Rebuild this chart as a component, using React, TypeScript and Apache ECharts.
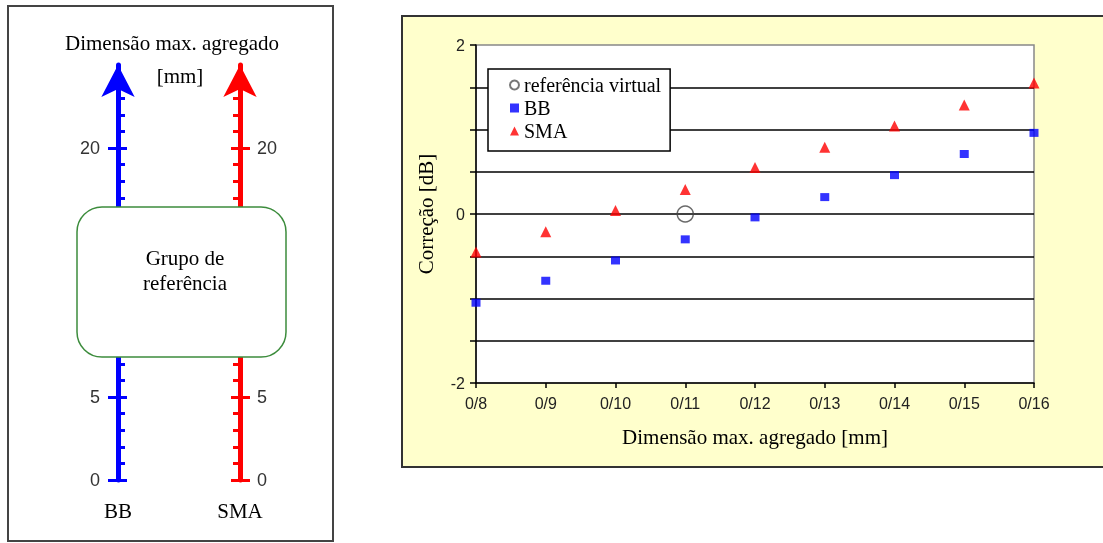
import React, { useEffect, useRef } from 'react';
import * as echarts from 'echarts';

const categories = ['0/8', '0/9', '0/10', '0/11', '0/12', '0/13', '0/14', '0/15', '0/16'];
const bbValues = [-1.05, -0.79, -0.55, -0.3, -0.04, 0.2, 0.46, 0.71, 0.96];
const smaValues = [-0.45, -0.21, 0.04, 0.29, 0.55, 0.79, 1.04, 1.29, 1.55];
const referencePoint: [string, number] = ['0/11', 0];
const yTickLabels = [-2, 0, 2];
const scaleTickLabels = [0, 5, 20];
const scaleMax = 25;
const scaleNames = ['BB', 'SMA'];
const legendNames = ['referência virtual', 'BB', 'SMA'];

const SERIF = "'Liberation Serif', 'Times New Roman', serif";
const SANS = "'Liberation Sans', Arial, sans-serif";
const BLUE = '#0000ff';
const RED = '#ff0000';

function scaleAxes(position: 'left' | 'right', color: string, name: string, margin: number) {
  const main = {
    type: 'value',
    gridIndex: 1,
    position,
    min: 0,
    max: scaleMax,
    interval: 5,
    name,
    nameLocation: 'start',
    nameGap: 20,
    nameTextStyle: { fontFamily: SERIF, fontSize: 21, color: '#000' },
    axisLine: {
      show: true,
      symbol: ['none', 'arrow'],
      symbolSize: [25, 32],
      symbolOffset: [0, 0],
      lineStyle: { color, width: 5 },
    },
    axisTick: { show: true, inside: true, length: 9, customValues: scaleTickLabels, lineStyle: { color, width: 3 } },
    minorTick: { show: true, splitNumber: 5, length: 7, lineStyle: { color, width: 3 } },
    axisLabel: { show: false },
    splitLine: { show: false },
    minorSplitLine: { show: false },
  };
  const aux = {
    type: 'value',
    gridIndex: 1,
    position,
    min: 0,
    max: scaleMax,
    interval: 5,
    axisLine: { show: false },
    axisTick: { show: true, inside: false, length: 10, customValues: scaleTickLabels, lineStyle: { color, width: 3 } },
    axisLabel: { show: true, customValues: scaleTickLabels, margin, fontSize: 18, color: '#333', fontFamily: SANS },
    splitLine: { show: false },
  };
  return [main, aux];
}

function serifText(text: string, x: number, y: number, size = 21) {
  return {
    type: 'text',
    z: 101,
    x,
    y,
    style: {
      text,
      fontFamily: SERIF,
      fontSize: size,
      fill: '#000',
      align: 'center',
      verticalAlign: 'middle',
      textAlign: 'center',
      textVerticalAlign: 'middle',
    },
  };
}

export default function App() {
  const ref = useRef<HTMLDivElement>(null);
  useEffect(() => {
    if (!ref.current) return;
    const chart = echarts.init(ref.current, undefined, { renderer: 'svg' });
    const option: any = {
      animation: false,
      graphic: [
        { type: 'rect', z: -10, shape: { x: 8, y: 6, width: 325, height: 535 }, style: { fill: '#fff', stroke: '#444', lineWidth: 2 } },
        { type: 'rect', z: -10, shape: { x: 402, y: 16, width: 760, height: 451 }, style: { fill: '#ffffcc', stroke: '#333', lineWidth: 2 } },
        serifText('Dimensão max. agregado', 172, 43),
        serifText('[mm]', 180, 76),
        { type: 'rect', z: 100, shape: { x: 77, y: 207, width: 209, height: 150, r: 25 }, style: { fill: '#fff', stroke: '#3c8c3c', lineWidth: 1.5 } },
        serifText('Grupo de', 185, 258),
        serifText('referência', 185, 283),
      ],
      grid: [
        { left: 476, top: 45, width: 558, height: 338, show: true, backgroundColor: '#fff', borderColor: '#888', borderWidth: 1.5 },
        { left: 118, top: 65, width: 122, height: 415, show: false },
      ],
      legend: {
        orient: 'vertical',
        left: 488,
        top: 69,
        backgroundColor: '#fff',
        borderColor: '#000',
        borderWidth: 1.5,
        borderRadius: 0,
        padding: [6, 9, 10, 21],
        itemGap: 3,
        itemWidth: 9,
        itemHeight: 9,
        selectedMode: false,
        textStyle: { fontFamily: SERIF, fontSize: 20, color: '#000' },
        data: [
          { name: legendNames[0], icon: 'circle', itemStyle: { color: '#fff', borderColor: '#555', borderWidth: 2 } },
          { name: legendNames[1], icon: 'rect' },
          { name: legendNames[2], icon: 'triangle' },
        ],
      },
      xAxis: [
        {
          type: 'category',
          gridIndex: 0,
          data: categories,
          boundaryGap: false,
          axisLine: { onZero: false, lineStyle: { color: '#000', width: 1.5 } },
          axisTick: { show: true, length: 5, lineStyle: { color: '#000', width: 1.5 } },
          axisLabel: { interval: 0, margin: 12, fontSize: 16, color: '#222', fontFamily: SANS },
          splitLine: { show: false },
          name: 'Dimensão max. agregado [mm]',
          nameLocation: 'middle',
          nameGap: 43,
          nameTextStyle: { fontFamily: SERIF, fontSize: 21, color: '#000' },
        },
        { type: 'value', gridIndex: 1, min: 0, max: 1, show: false },
      ],
      yAxis: [
        {
          type: 'value',
          gridIndex: 0,
          min: -2,
          max: 2,
          interval: 0.5,
          axisLine: { show: true, onZero: false, lineStyle: { color: '#000', width: 1.5 } },
          axisTick: { show: true, length: 6, lineStyle: { color: '#000', width: 1.5 } },
          axisLabel: { customValues: yTickLabels, margin: 11, fontSize: 16, color: '#222', fontFamily: SANS },
          splitLine: { show: true, showMinLine: false, showMaxLine: false, lineStyle: { color: '#000', width: 1.5 } },
          name: 'Correção [dB]',
          nameLocation: 'middle',
          nameGap: 40,
          nameTextStyle: { fontFamily: SERIF, fontSize: 21, color: '#000' },
        },
        ...scaleAxes('left', BLUE, scaleNames[0], 18),
        ...scaleAxes('right', RED, scaleNames[1], 17),
      ],
      series: [
        {
          name: legendNames[0],
          type: 'scatter',
          xAxisIndex: 0,
          yAxisIndex: 0,
          data: [referencePoint],
          symbol: 'circle',
          symbolSize: 16,
          itemStyle: { color: 'rgba(255,255,255,0)', borderColor: '#444', borderWidth: 1.5 },
          z: 3,
        },
        {
          name: legendNames[1],
          type: 'scatter',
          xAxisIndex: 0,
          yAxisIndex: 0,
          data: bbValues,
          symbol: 'rect',
          symbolSize: [9, 8],
          itemStyle: { color: BLUE },
        },
        {
          name: legendNames[2],
          type: 'scatter',
          xAxisIndex: 0,
          yAxisIndex: 0,
          data: smaValues,
          symbol: 'triangle',
          symbolSize: 11,
          itemStyle: { color: RED },
        },
      ],
    };
    chart.setOption(option);
    return () => chart.dispose();
  }, []);
  return <div ref={ref} style={{ position: 'fixed', left: 0, top: 0, width: 1103, height: 543 }} />;
}
